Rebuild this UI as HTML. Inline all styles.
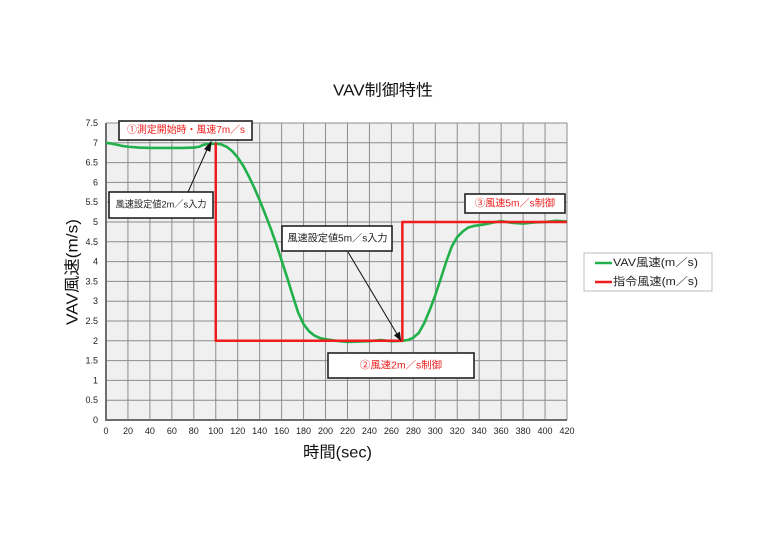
<!DOCTYPE html>
<html><head><meta charset="utf-8"><style>
html,body{margin:0;padding:0;background:#fff;width:768px;height:543px;overflow:hidden}
svg{display:block}
text{font-family:"Liberation Sans","Noto Sans CJK JP",sans-serif}
</style></head><body>
<svg width="768" height="543" viewBox="0 0 768 543" xmlns="http://www.w3.org/2000/svg">
<rect x="0" y="0" width="768" height="543" fill="#fff"/>
<text x="383" y="91" font-size="16" text-anchor="middle" dominant-baseline="central" textLength="100" lengthAdjust="spacingAndGlyphs" fill="#111">VAV制御特性</text>
<rect x="106" y="123" width="461" height="297" fill="#f0f0f0"/>
<g stroke="#8c8c8c" stroke-width="1">
<line x1="127.95" y1="123" x2="127.95" y2="420"/><line x1="149.9" y1="123" x2="149.9" y2="420"/><line x1="171.86" y1="123" x2="171.86" y2="420"/><line x1="193.81" y1="123" x2="193.81" y2="420"/><line x1="215.76" y1="123" x2="215.76" y2="420"/><line x1="237.71" y1="123" x2="237.71" y2="420"/><line x1="259.67" y1="123" x2="259.67" y2="420"/><line x1="281.62" y1="123" x2="281.62" y2="420"/><line x1="303.57" y1="123" x2="303.57" y2="420"/><line x1="325.52" y1="123" x2="325.52" y2="420"/><line x1="347.48" y1="123" x2="347.48" y2="420"/><line x1="369.43" y1="123" x2="369.43" y2="420"/><line x1="391.38" y1="123" x2="391.38" y2="420"/><line x1="413.33" y1="123" x2="413.33" y2="420"/><line x1="435.29" y1="123" x2="435.29" y2="420"/><line x1="457.24" y1="123" x2="457.24" y2="420"/><line x1="479.19" y1="123" x2="479.19" y2="420"/><line x1="501.14" y1="123" x2="501.14" y2="420"/><line x1="523.1" y1="123" x2="523.1" y2="420"/><line x1="545.05" y1="123" x2="545.05" y2="420"/><line x1="567" y1="123" x2="567" y2="420"/>
<line x1="106" y1="400.2" x2="567" y2="400.2"/><line x1="106" y1="380.4" x2="567" y2="380.4"/><line x1="106" y1="360.6" x2="567" y2="360.6"/><line x1="106" y1="340.8" x2="567" y2="340.8"/><line x1="106" y1="321" x2="567" y2="321"/><line x1="106" y1="301.2" x2="567" y2="301.2"/><line x1="106" y1="281.4" x2="567" y2="281.4"/><line x1="106" y1="261.6" x2="567" y2="261.6"/><line x1="106" y1="241.8" x2="567" y2="241.8"/><line x1="106" y1="222" x2="567" y2="222"/><line x1="106" y1="202.2" x2="567" y2="202.2"/><line x1="106" y1="182.4" x2="567" y2="182.4"/><line x1="106" y1="162.6" x2="567" y2="162.6"/><line x1="106" y1="142.8" x2="567" y2="142.8"/><line x1="106" y1="123" x2="567" y2="123"/>
</g>
<g stroke="#6e6e6e" stroke-width="2" fill="none"><polyline points="106,123 106,420 567,420"/></g>
<g font-size="9" fill="#222" text-anchor="end" dominant-baseline="central">
<text x="98" y="420">0</text><text x="98" y="400.2">0.5</text><text x="98" y="380.4">1</text><text x="98" y="360.6">1.5</text><text x="98" y="340.8">2</text><text x="98" y="321">2.5</text><text x="98" y="301.2">3</text><text x="98" y="281.4">3.5</text><text x="98" y="261.6">4</text><text x="98" y="241.8">4.5</text><text x="98" y="222">5</text><text x="98" y="202.2">5.5</text><text x="98" y="182.4">6</text><text x="98" y="162.6">6.5</text><text x="98" y="142.8">7</text><text x="98" y="123">7.5</text>
</g>
<g font-size="9" fill="#222" text-anchor="middle" dominant-baseline="central">
<text x="106" y="431">0</text><text x="127.95" y="431">20</text><text x="149.9" y="431">40</text><text x="171.86" y="431">60</text><text x="193.81" y="431">80</text><text x="215.76" y="431">100</text><text x="237.71" y="431">120</text><text x="259.67" y="431">140</text><text x="281.62" y="431">160</text><text x="303.57" y="431">180</text><text x="325.52" y="431">200</text><text x="347.48" y="431">220</text><text x="369.43" y="431">240</text><text x="391.38" y="431">260</text><text x="413.33" y="431">280</text><text x="435.29" y="431">300</text><text x="457.24" y="431">320</text><text x="479.19" y="431">340</text><text x="501.14" y="431">360</text><text x="523.1" y="431">380</text><text x="545.05" y="431">400</text><text x="567" y="431">420</text>
</g>
<text x="337.5" y="453" font-size="16" text-anchor="middle" dominant-baseline="central" textLength="69" lengthAdjust="spacingAndGlyphs" fill="#111">時間(sec)</text>
<text transform="translate(73,272) rotate(-90)" x="0" y="0" font-size="16" text-anchor="middle" dominant-baseline="central" textLength="106" lengthAdjust="spacingAndGlyphs" fill="#111">VAV風速(m/s)</text>
<g transform="matrix(1.0976 0 0 -39.6 106 420)" fill="none" stroke-linejoin="round">
<polyline vector-effect="non-scaling-stroke" stroke="#22b04b" stroke-width="2.6" points="0,7.0 5,6.98 10,6.95 15,6.92 20,6.9 30,6.88 40,6.87 50,6.87 60,6.87 70,6.87 80,6.88 85,6.9 88,6.94 92,6.97 96,6.97 100,6.98 105,6.96 110,6.9 115,6.79 120,6.63 125,6.42 130,6.16 135,5.87 140,5.55 145,5.2 150,4.84 155,4.45 160,4.03 165,3.6 170,3.15 175,2.72 180,2.42 185,2.24 190,2.13 195,2.07 200,2.04 205,2.02 210,2.0 220,1.97 230,1.98 240,1.99 250,2.02 260,1.99 270,2.0 275,2.02 280,2.08 285,2.2 290,2.45 295,2.78 300,3.15 305,3.57 310,4.0 315,4.38 320,4.62 325,4.76 330,4.86 335,4.9 340,4.92 345,4.94 350,4.97 355,5.0 360,5.02 370,4.98 380,4.96 390,4.99 400,5.0 410,5.03 420,5.01"/>
<polyline vector-effect="non-scaling-stroke" stroke="#ee1c1c" stroke-width="2.5" points="100,7 100,2 270,2 270,5 420,5"/>
</g>
<g stroke="#222" stroke-width="1.6" fill="#fff">
<rect x="119" y="121" width="133" height="19"/>
<rect x="109" y="192" width="104" height="26"/>
<rect x="282" y="226" width="110" height="25"/>
<rect x="328" y="353" width="146" height="25"/>
<rect x="465" y="194" width="100" height="19"/>
</g>
<text x="186" y="130.5" font-size="10" text-anchor="middle" dominant-baseline="central" textLength="118" lengthAdjust="spacingAndGlyphs" fill="#ee1c1c">①測定開始時・風速7m／s</text>
<text x="161" y="205" font-size="9.5" text-anchor="middle" dominant-baseline="central" textLength="91" lengthAdjust="spacingAndGlyphs" fill="#222">風速設定値2m／s入力</text>
<text x="337.5" y="239" font-size="10" text-anchor="middle" dominant-baseline="central" textLength="100" lengthAdjust="spacingAndGlyphs" fill="#222">風速設定値5m／s入力</text>
<text x="401" y="366" font-size="10" text-anchor="middle" dominant-baseline="central" textLength="82" lengthAdjust="spacingAndGlyphs" fill="#ee1c1c">②風速2m／s制御</text>
<text x="515" y="204" font-size="10" text-anchor="middle" dominant-baseline="central" textLength="80" lengthAdjust="spacingAndGlyphs" fill="#ee1c1c">③風速5m／s制御</text>
<g stroke="#111" stroke-width="1" fill="#111">
<line x1="188" y1="192" x2="207.5" y2="148.5"/>
<polygon points="211,142 209.9,151.2 204.9,149"/>
<line x1="348" y1="252" x2="397" y2="334"/>
<polygon points="400.5,340 394.8,335.3 399.5,332.5"/>
</g>
<rect x="584" y="253" width="128" height="38" fill="#fff" stroke="#bdbdbd" stroke-width="1"/>
<line x1="595" y1="263" x2="612" y2="263" stroke="#22b04b" stroke-width="2.5"/>
<line x1="595" y1="282" x2="612" y2="282" stroke="#ee1c1c" stroke-width="2.5"/>
<text x="613" y="263" font-size="11" dominant-baseline="central" textLength="85" lengthAdjust="spacingAndGlyphs" fill="#222">VAV風速(m／s)</text>
<text x="613" y="282" font-size="11" dominant-baseline="central" textLength="85" lengthAdjust="spacingAndGlyphs" fill="#222">指令風速(m／s)</text>
</svg>
</body></html>
